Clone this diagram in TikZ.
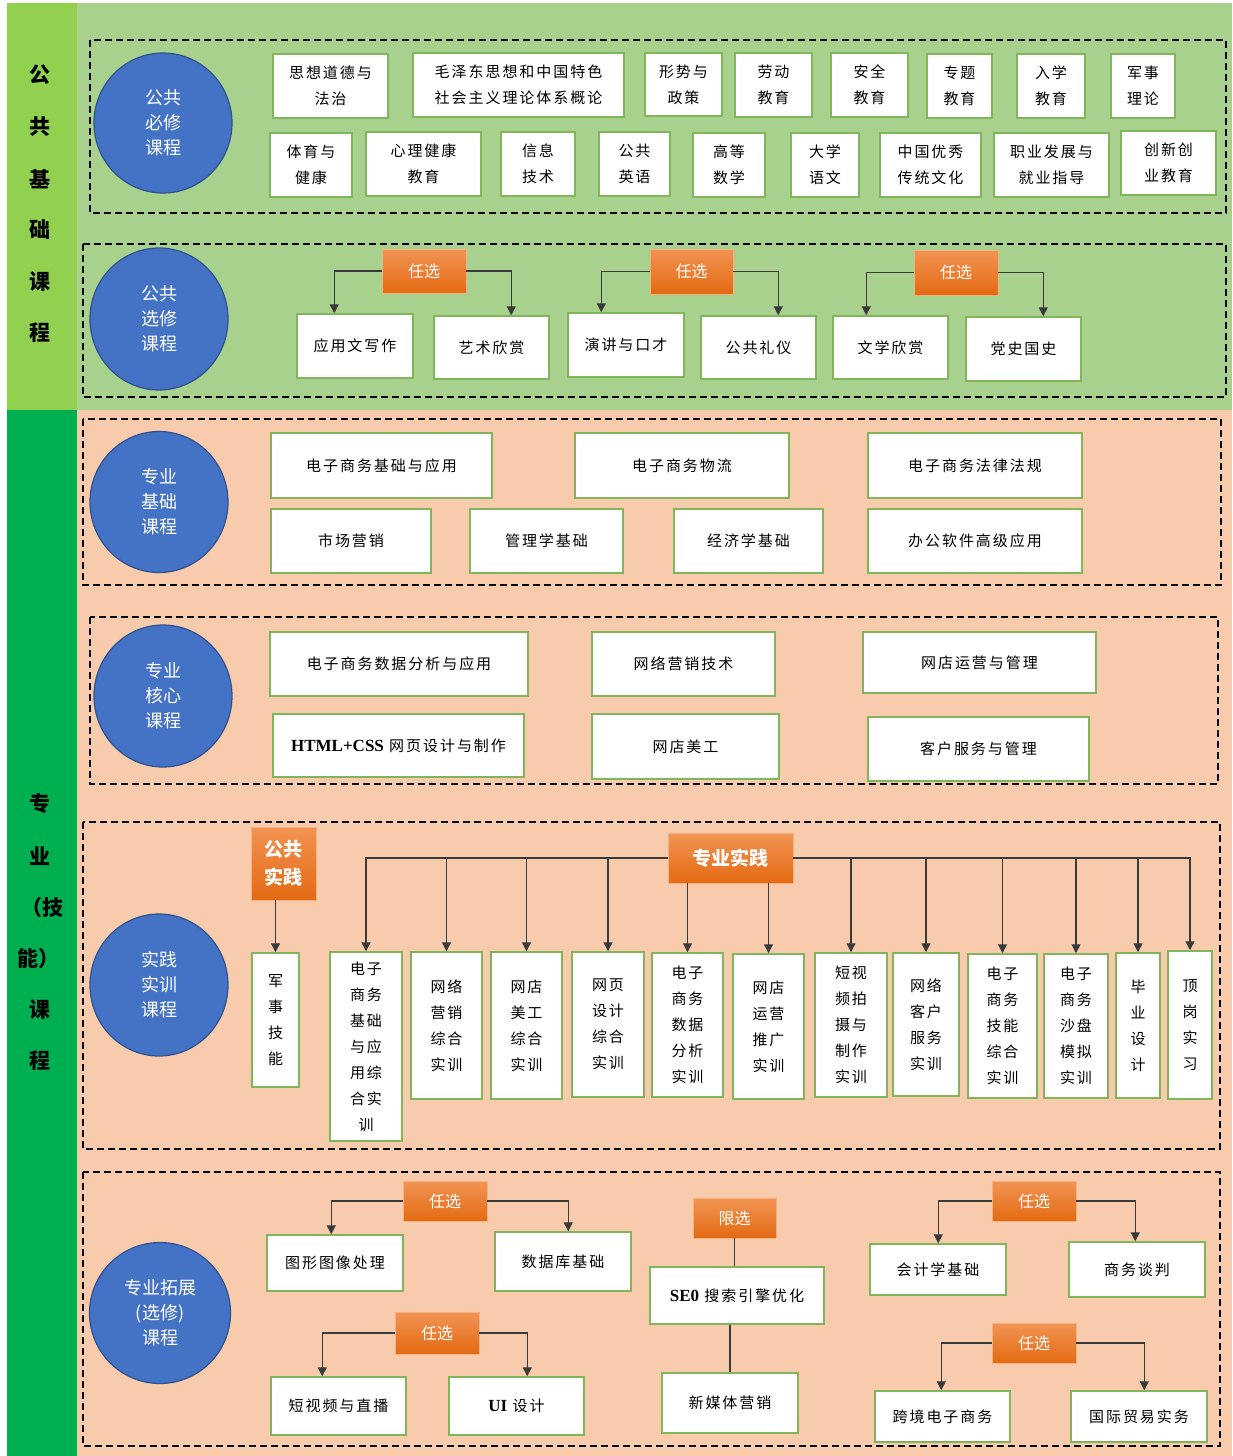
\documentclass[tikz,border=0pt]{standalone}
\usepackage{fontspec}
\setmainfont{Liberation Serif}
\newfontfamily\cjk{Noto Sans CJK SC}
\newfontfamily\cjkls[LetterSpace=13]{Noto Sans CJK SC}
\usetikzlibrary{arrows.meta,shapes.geometric}
\definecolor{stripA}{HTML}{92D050}
\definecolor{panelA}{HTML}{A9D18E}
\definecolor{stripB}{HTML}{00B050}
\definecolor{panelB}{HTML}{F8CBAD}
\definecolor{ellf}{HTML}{4472C4}
\definecolor{ellb}{HTML}{2F528F}
\definecolor{boxg}{HTML}{7FB65A}
\definecolor{otop}{HTML}{F29454}
\definecolor{obot}{HTML}{E36A12}
\definecolor{oedge}{HTML}{F4B183}
\definecolor{arrc}{HTML}{3A3A3A}
\newcommand\lat[1]{{\rmfamily\bfseries\fontsize{17}{26}\selectfont #1}}
\newcommand\cbx[6]{\node[cbox,minimum width={#4pt-#2pt},minimum height={#5pt-#3pt}] (#1) at ({(#2+#4)/2},{(#3+#5)/2}) {#6};}
\newcommand\obx[7][]{\node[obox,#1,minimum width={#5pt-#3pt},minimum height={#6pt-#4pt}] (#2) at ({(#3+#5)/2},{(#4+#6)/2}) {#7};}
\tikzset{
  cbox/.style={draw=boxg, line width=1.5pt, fill=white, inner sep=0pt, align=center,
    font=\cjkls\fontsize{15}{26}\selectfont},
  ell/.style={ellipse, draw=ellb, line width=1.2pt, fill=ellf, text=white, align=center,
    inner sep=0pt, font=\cjk\fontsize{18}{25}\selectfont},
  obox/.style={top color=otop, bottom color=obot, draw=oedge, line width=0.8pt, text=white,
    inner sep=0pt, align=center, font=\cjk\fontsize{16}{20}\selectfont},
  obig/.style={font=\cjk\bfseries\fontsize{19}{28}\selectfont},
  frame/.style={draw=black, line width=2.2pt, dash pattern=on 7pt off 4pt},
  arr/.style={draw=arrc, line width=1.3pt, -{Triangle[length=9pt,width=9pt]}},
  lnk/.style={draw=arrc, line width=1.4pt},
  side/.style={font=\cjk\bfseries\fontsize{21}{24}\selectfont}
}
\begin{document}
\begin{tikzpicture}[x=1pt,y=-1pt]
\useasboundingbox (0,0) rectangle (1232,1456);
% backgrounds
\fill[stripA] (7,3) rectangle (77,410);
\fill[panelA] (77,3) rectangle (1232,410);
\fill[stripB] (7,410) rectangle (77,1456);
\fill[panelB] (77,410) rectangle (1232,1456);
% side titles
\node[side] (s1) at (40,75) {公};
\node[side] (s2) at (40,127) {共};
\node[side] (s3) at (40,179) {基};
\node[side] (s4) at (40,230) {础};
\node[side] (s5) at (40,282) {课};
\node[side] (s6) at (40,333) {程};
\node[side] (s7) at (40,804) {专};
\node[side] (s8) at (40,856) {业};
\node[side] (s9) at (42,908) {（技};
\node[side] (s10) at (38,959) {能）};
\node[side] (s11) at (40,1010) {课};
\node[side] (s12) at (40,1061) {程};
% frames
\draw[frame] (90,40) rectangle (1226,213);
\draw[frame] (83,244) rectangle (1226,397);
\draw[frame] (83,419) rectangle (1221,585);
\draw[frame] (90,617) rectangle (1218,784);
\draw[frame] (83,822) rectangle (1220,1149);
\draw[frame] (83,1172) rectangle (1220,1446);
% ellipses
\node[ell, minimum width=138pt, minimum height=140pt] (e1) at (163,123) {公共\\必修\\课程};
\node[ell, minimum width=138pt, minimum height=142pt] (e2) at (159,319) {公共\\选修\\课程};
\node[ell, minimum width=138pt, minimum height=141pt] (e3) at (159,502) {专业\\基础\\课程};
\node[ell, minimum width=138pt, minimum height=142pt] (e4) at (163,696) {专业\\核心\\课程};
\node[ell, minimum width=138pt, minimum height=142pt] (e5) at (159,985) {实践\\实训\\课程};
\node[ell, minimum width=141pt, minimum height=141pt] (e6) at (160,1313) {专业拓展\\(选修)\\课程};
% section A
\cbx{a01}{273}{54}{388}{118}{思想道德与\\法治}
\cbx{a02}{413}{53}{624}{117}{毛泽东思想和中国特色\\社会主义理论体系概论}
\cbx{a03}{645}{53}{722}{116}{形势与\\政策}
\cbx{a04}{735}{53}{812}{117}{劳动\\教育}
\cbx{a05}{831}{53}{908}{117}{安全\\教育}
\cbx{a06}{927}{54}{992}{118}{专题\\教育}
\cbx{a07}{1017}{54}{1085}{118}{入学\\教育}
\cbx{a08}{1111}{54}{1175}{118}{军事\\理论}
\cbx{a09}{270}{133}{352}{197}{体育与\\健康}
\cbx{a10}{366}{132}{481}{196}{心理健康\\教育}
\cbx{a11}{501}{132}{575}{196}{信息\\技术}
\cbx{a12}{599}{132}{670}{196}{公共\\英语}
\cbx{a13}{693}{133}{765}{197}{高等\\数学}
\cbx{a14}{791}{133}{859}{197}{大学\\语文}
\cbx{a15}{880}{133}{981}{197}{中国优秀\\传统文化}
\cbx{a16}{994}{133}{1109}{197}{职业发展与\\就业指导}
\cbx{a17}{1121}{131}{1216}{195}{创新创\\业教育}
% section B
\obx{r1}{382}{249}{466}{293}{任选}
\obx{r2}{650}{249}{733}{294}{任选}
\obx{r3}{914}{250}{998}{295}{任选}
\cbx{b1}{297}{314}{413}{378}{应用文写作}
\cbx{b2}{434}{316}{549}{379}{艺术欣赏}
\cbx{b3}{568}{313}{684}{377}{演讲与口才}
\cbx{b4}{701}{316}{816}{379}{公共礼仪}
\cbx{b5}{833}{316}{948}{379}{文学欣赏}
\cbx{b6}{966}{317}{1081}{381}{党史国史}
\draw[arr] (r1.west) -| ([xshift=38pt]b1.north west);
\draw[arr] (r1.east) -| ([xshift=78pt]b2.north west);
\draw[arr] (r2.west) -| ([xshift=34pt]b3.north west);
\draw[arr] (r2.east) -| ([xshift=78pt]b4.north west);
\draw[arr] (r3.west) -| ([xshift=34pt]b5.north west);
\draw[arr] (r3.east) -| ([xshift=78pt]b6.north west);
% section C
\cbx{c1}{271}{433}{492}{498}{电子商务基础与应用}
\cbx{c2}{575}{433}{789}{498}{电子商务物流}
\cbx{c3}{868}{433}{1082}{498}{电子商务法律法规}
\cbx{c4}{271}{509}{431}{573}{市场营销}
\cbx{c5}{470}{509}{623}{573}{管理学基础}
\cbx{c6}{674}{509}{823}{573}{经济学基础}
\cbx{c7}{868}{509}{1082}{573}{办公软件高级应用}
% section D
\cbx{d1}{270}{632}{528}{696}{电子商务数据分析与应用}
\cbx{d2}{592}{632}{775}{696}{网络营销技术}
\cbx{d3}{863}{632}{1096}{693}{网店运营与管理}
\cbx{d4}{273}{714}{524}{777}{\lat{HTML+CSS} 网页设计与制作}
\cbx{d5}{592}{714}{779}{779}{网店美工}
\cbx{d6}{868}{717}{1089}{781}{客户服务与管理}
% section E
\obx[obig]{p1}{251}{827}{316}{900}{公共\\实践}
\obx[obig]{p2}{668}{833}{793}{883}{专业实践}
\cbx{m1}{252}{953}{299}{1087}{军\\事\\技\\能}
\cbx{v1}{330}{952}{402}{1141}{电子\\商务\\基础\\与应\\用综\\合实\\训}
\cbx{v2}{411}{952}{482}{1099}{网络\\营销\\综合\\实训}
\cbx{v3}{491}{952}{562}{1099}{网店\\美工\\综合\\实训}
\cbx{v4}{572}{952}{644}{1097}{网页\\设计\\综合\\实训}
\cbx{v5}{652}{953}{723}{1097}{电子\\商务\\数据\\分析\\实训}
\cbx{v6}{733}{954}{804}{1099}{网店\\运营\\推广\\实训}
\cbx{v7}{815}{953}{887}{1097}{短视\\频拍\\摄与\\制作\\实训}
\cbx{v8}{893}{953}{959}{1096}{网络\\客户\\服务\\实训}
\cbx{v9}{968}{954}{1037}{1098}{电子\\商务\\技能\\综合\\实训}
\cbx{v10}{1044}{954}{1108}{1098}{电子\\商务\\沙盘\\模拟\\实训}
\cbx{v11}{1116}{953}{1160}{1098}{毕\\业\\设\\计}
\cbx{v12}{1168}{951}{1212}{1099}{顶\\岗\\实\\习}
\draw[arr] (p1.south -| m1.north) -- (m1.north);
\draw[arr] (p2.west) -| (v1.north);
\draw[arr] (p2.west) -| (v2.north);
\draw[arr] (p2.west) -| (v3.north);
\draw[arr] (p2.west) -| (v4.north);
\draw[arr] (p2.south -| v5.north) -- (v5.north);
\draw[arr] (p2.south -| v6.north) -- (v6.north);
\draw[arr] (p2.east) -| (v7.north);
\draw[arr] (p2.east) -| (v8.north);
\draw[arr] (p2.east) -| (v9.north);
\draw[arr] (p2.east) -| (v10.north);
\draw[arr] (p2.east) -| (v11.north);
\draw[arr] (p2.east) -| (v12.north);
% section F
\obx{g1}{403}{1181}{487}{1221}{任选}
\obx{g2}{395}{1312}{479}{1354}{任选}
\obx{g3}{693}{1198}{776}{1238}{限选}
\obx{g4}{992}{1181}{1076}{1221}{任选}
\obx{g5}{992}{1323}{1076}{1363}{任选}
\cbx{f1}{267}{1235}{403}{1291}{图形图像处理}
\cbx{f2}{495}{1232}{631}{1291}{数据库基础}
\cbx{f3}{271}{1377}{406}{1435}{短视频与直播}
\cbx{f4}{449}{1377}{584}{1435}{\lat{UI} 设计}
\cbx{f5}{650}{1267}{824}{1324}{\lat{SE0} 搜索引擎优化}
\cbx{f6}{662}{1373}{798}{1433}{新媒体营销}
\cbx{f7}{870}{1244}{1006}{1295}{会计学基础}
\cbx{f8}{1069}{1242}{1205}{1297}{商务谈判}
\cbx{f9}{875}{1391}{1010}{1442}{跨境电子商务}
\cbx{f10}{1071}{1391}{1207}{1442}{国际贸易实务}
\draw[arr] (g1.west) -| ([xshift=65pt]f1.north west);
\draw[arr] (g1.east) -| ([xshift=74pt]f2.north west);
\draw[arr] (g2.west) -| ([xshift=52pt]f3.north west);
\draw[arr] (g2.east) -| ([xshift=79pt]f4.north west);
\draw[lnk] (g3.south) -- (g3.south |- f5.north);
\draw[lnk] (f5.south -| f6.north) -- (f6.north);
\draw[arr] (g4.west) -| ([xshift=69pt]f7.north west);
\draw[arr] (g4.east) -| ([xshift=67pt]f8.north west);
\draw[arr] (g5.west) -| ([xshift=67pt]f9.north west);
\draw[arr] (g5.east) -| ([xshift=74pt]f10.north west);
\end{tikzpicture}
\end{document}
